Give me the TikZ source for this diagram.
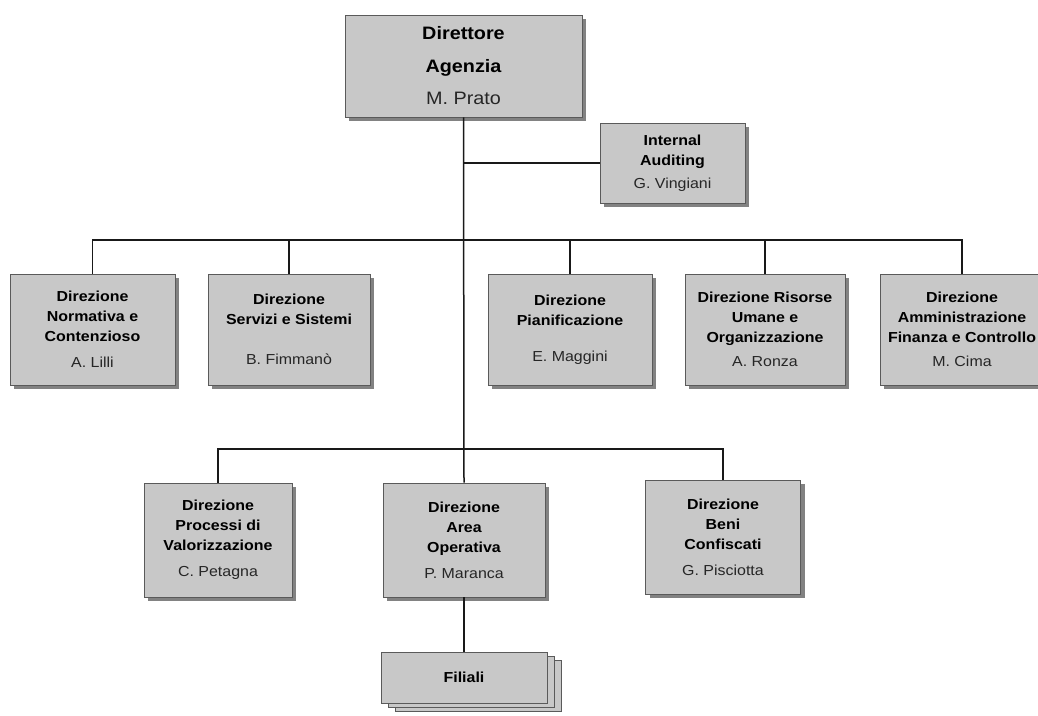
\documentclass[tikz,border=0pt]{standalone}
\usepackage{fontspec}
\setmainfont{Liberation Sans}[FakeStretch=1.1]
\usetikzlibrary{shadows}
\definecolor{boxfill}{RGB}{200,200,200}
\definecolor{boxline}{RGB}{90,90,90}
\definecolor{shadowgray}{RGB}{130,130,130}
\newcommand\pname[1]{{\mdseries\color{black!85}#1}}
\begin{document}
\begin{tikzpicture}[x=1pt,y=-1pt,
  unit/.style={draw=boxline, fill=boxfill, line width=0.6pt, align=center, inner sep=0pt,
    font=\fontsize{14.5}{20}\selectfont\bfseries,
    drop shadow={shadow xshift=4pt, shadow yshift=-4pt, fill=shadowgray, opacity=1, draw=none}},
  conn/.style={line width=1.5pt, black!90}]
\useasboundingbox (0,0) rectangle (1038,715);

% top
\node[unit, minimum width=237pt, minimum height=102pt, font=\fontsize{18}{32.5}\selectfont\bfseries] (dir) at (463.5,66) {Direttore\\Agenzia\\\pname{M. Prato}};
\node[unit, minimum width=145pt, minimum height=80pt] (ia) at (672.5,163) {Internal\\Auditing\\[3pt]\pname{G. Vingiani}};

% row 1
\node[unit, minimum width=165pt, minimum height=111pt] (b1) at (92.5,329.5) {Direzione\\Normativa e\\Contenzioso\\[6pt]\pname{A. Lilli}};
\node[unit, minimum width=162pt, minimum height=111pt] (b2) at (289,329.5) {Direzione\\Servizi e Sistemi\\[20pt]\pname{B. Fimmanò}};
\node[unit, minimum width=164pt, minimum height=111pt] (b3) at (570,329.5) {Direzione\\Pianificazione\\[16pt]\pname{E. Maggini}};
\node[unit, minimum width=160pt, minimum height=111pt] (b4) at (765,329.5) {Direzione Risorse\\Umane e\\Organizzazione\\[4pt]\pname{A. Ronza}};
\node[unit, minimum width=164pt, minimum height=111pt] (b5) at (962,329.5) {Direzione\\Amministrazione\\Finanza e Controllo\\[4pt]\pname{M. Cima}};

% row 2
\node[unit, minimum width=148pt, minimum height=114pt] (c1) at (218,540) {Direzione\\Processi di\\Valorizzazione\\[6pt]\pname{C. Petagna}};
\node[unit, minimum width=162pt, minimum height=114pt] (c2) at (464,540) {Direzione\\Area\\Operativa\\[6pt]\pname{P. Maranca}};
\node[unit, minimum width=155pt, minimum height=114pt] (c3) at (723,537) {Direzione\\Beni\\Confiscati\\[6pt]\pname{G. Pisciotta}};

% filiali
\node[draw=boxline, fill=boxfill, line width=0.6pt, inner sep=0pt,
  minimum width=166pt, minimum height=51pt, font=\fontsize{14.5}{20}\selectfont\bfseries,
  double copy shadow={shadow xshift=7pt, shadow yshift=-4pt}] (fil) at (464,677.5) {Filiali};

% connectors
\coordinate (j0) at (464,163);
\coordinate (j1) at (464,240);
\coordinate (j2) at (464,449);
\draw[conn] (dir.south) -- (c2.north);
\draw[conn] (j0) -- (ia.west);
\draw[conn] (b1.north) -- (b1.north |- j1) -- (b5.north |- j1) -- (b5.north);
\draw[conn] (b2.north) -- (b2.north |- j1);
\draw[conn] (b3.north) -- (b3.north |- j1);
\draw[conn] (b4.north) -- (b4.north |- j1);
\draw[conn] (c1.north) -- (c1.north |- j2) -- (c3.north |- j2) -- (c3.north);
\draw[conn] (c2.south) -- (fil.north);
\end{tikzpicture}
\end{document}
